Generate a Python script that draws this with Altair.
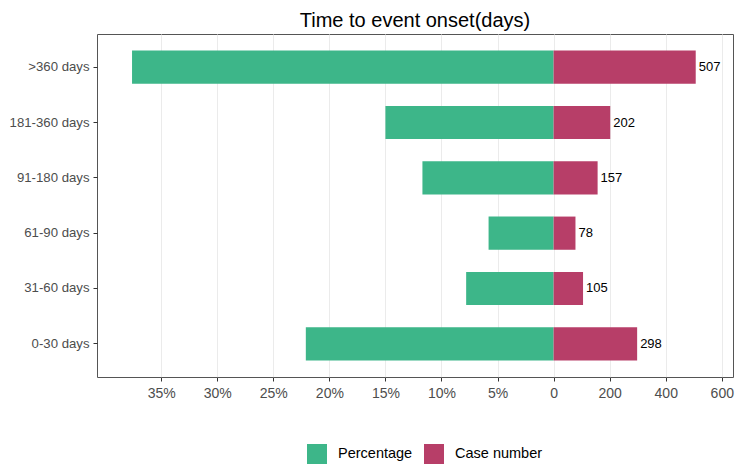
import altair as alt
import pandas as pd

categories = [">360 days", "181-360 days", "91-180 days", "61-90 days", "31-60 days", "0-30 days"]
case_numbers = [507, 202, 157, 78, 105, 298]
percentages = [37.6, 15.0, 11.7, 5.8, 7.8, 22.1]
series_names = ["Percentage", "Case number"]
series_colors = ["#3db689", "#b73e68"]
tick_values = [-1400, -1200, -1000, -800, -600, -400, -200, 0, 200, 400, 600]
PCT_SCALE = 40  # 1% drawn as 40 case units (5% <-> 200 cases)

rows = []
for c, p, n in zip(categories, percentages, case_numbers):
    rows.append({"category": c, "series": "Percentage", "x": -p * PCT_SCALE, "label": ""})
    rows.append({"category": c, "series": "Case number", "x": n, "label": str(n)})
df = pd.DataFrame(rows)

FONT = "Liberation Sans"

x_enc = alt.X(
    "x:Q",
    scale=alt.Scale(domain=[-1629, 640], nice=False, zero=True),
    axis=alt.Axis(
        values=tick_values,
        labelExpr="datum.value < 0 ? format(-datum.value/40, 'd') + '%' : format(datum.value, 'd')",
        title=None,
        grid=True,
        gridColor="#ebebeb",
        gridWidth=1,
        domain=False,
        tickColor="#333333",
        tickSize=4,
        labelPadding=5,
        labelFontSize=14,
        labelColor="#4d4d4d",
        labelFont=FONT,
    ),
)
y_enc = alt.Y(
    "category:N",
    sort=categories,
    scale=alt.Scale(paddingInner=0.4, paddingOuter=0.3),
    axis=alt.Axis(
        title=None,
        grid=False,
        domain=False,
        tickColor="#333333",
        tickSize=4,
        labelPadding=4,
        labelFontSize=13.2,
        labelColor="#4d4d4d",
        labelFont=FONT,
    ),
)

bars = alt.Chart(df).mark_bar().encode(
    x=x_enc,
    y=y_enc,
    color=alt.Color(
        "series:N",
        scale=alt.Scale(domain=series_names, range=series_colors),
        legend=alt.Legend(
            title=None,
            orient="none",
            legendX=210,
            legendY=410,
            direction="horizontal",
            symbolType="square",
            symbolSize=400,
            symbolStrokeWidth=0,
            labelFontSize=14.5,
            labelFont=FONT,
            labelColor="#000000",
            labelOffset=11,
            columnPadding=11,
        ),
    ),
)

text = alt.Chart(df[df["series"] == "Case number"]).mark_text(
    align="left", baseline="middle", dx=3, fontSize=13, font=FONT, color="#000000"
).encode(
    x=alt.X("x:Q"),
    y=alt.Y("category:N", sort=categories),
    text="label:N",
)

chart = (
    alt.layer(bars, text)
    .properties(
        width=636,
        height=343,
        title=alt.TitleParams(
            "Time to event onset(days)",
            font=FONT,
            fontSize=20,
            fontWeight="normal",
            color="#000000",
            anchor="middle",
            offset=3,
        ),
        autosize=alt.AutoSizeParams(type="none"),
        padding={"left": 89, "top": 26, "right": 3, "bottom": 87},
    )
    .configure_view(stroke="#555555", strokeWidth=1)
)

chart.save("out.html", embed_options={"renderer": "svg", "actions": False})
